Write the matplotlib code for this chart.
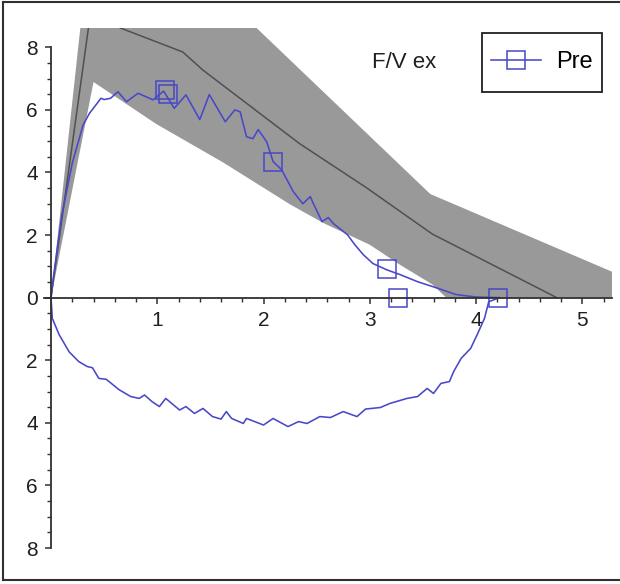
import matplotlib
matplotlib.use("Agg")
import matplotlib.pyplot as plt
from matplotlib.lines import Line2D
from matplotlib.patches import Rectangle
from matplotlib.ticker import FixedLocator, FuncFormatter
import numpy as np

plt.rcParams['font.family'] = ['Liberation Sans', 'DejaVu Sans']

# ---- data ----
band_upper_x = [0.0, 0.40, 1.20, 3.57, 5.30]
band_upper_y = [0.0, 12.5, 11.0, 3.31, 0.80]
band_lower_x = [0.0, 0.40, 0.99, 1.62, 2.25, 2.56, 3.00, 3.28, 3.59, 3.72, 5.30]
band_lower_y = [0.0, 6.89, 5.55, 4.32, 2.98, 2.39, 1.69, 1.06, 0.42, 0.0, 0.0]
mean_x = [0.0, 0.38, 0.65, 1.24, 1.43, 2.34, 2.97, 3.59, 4.76]
mean_y = [0.0, 9.30, 8.62, 7.85, 7.27, 4.92, 3.51, 2.03, 0.0]

pre_up_x = [0.0, 0.02, 0.10, 0.20, 0.30, 0.36, 0.47, 0.50, 0.56, 0.63, 0.71, 0.82, 0.96,
            1.06, 1.16, 1.27, 1.40, 1.49, 1.64, 1.73, 1.78, 1.84, 1.90, 1.95, 2.03, 2.09,
            2.17, 2.28, 2.37, 2.44, 2.47, 2.55, 2.61, 2.66, 2.79, 2.86, 2.94, 3.03, 3.16,
            3.29, 3.45, 3.64, 3.81, 4.00, 4.22]
pre_up_y = [0.0, 0.6, 2.6, 4.3, 5.5, 5.88, 6.37, 6.33, 6.37, 6.58, 6.26, 6.53, 6.32,
            6.60, 6.05, 6.48, 5.69, 6.49, 5.62, 6.00, 5.94, 5.14, 5.08, 5.37, 4.98, 4.35,
            4.09, 3.39, 3.00, 3.23, 3.00, 2.43, 2.56, 2.36, 2.01, 1.69, 1.37, 1.09, 0.89,
            0.73, 0.51, 0.30, 0.10, 0.02, 0.0]
pre_low_x = [0.0, 0.012, 0.076, 0.17, 0.26, 0.34, 0.39, 0.45, 0.52, 0.64, 0.75, 0.83, 0.88,
             0.95, 1.02, 1.08, 1.21, 1.27, 1.35, 1.43, 1.52, 1.60, 1.65, 1.70, 1.81, 1.84,
             2.00, 2.09, 2.23, 2.33, 2.41, 2.53, 2.63, 2.75, 2.88, 2.96, 3.10, 3.19, 3.35,
             3.45, 3.54, 3.60, 3.67, 3.75, 3.79, 3.86, 3.95, 4.01, 4.08, 4.12, 4.22]
pre_low_y = [0.0, -0.66, -1.18, -1.73, -2.04, -2.20, -2.24, -2.58, -2.61, -2.94, -3.16, -3.22, -3.11,
             -3.32, -3.48, -3.22, -3.59, -3.48, -3.70, -3.54, -3.80, -3.88, -3.64, -3.86, -4.02, -3.86,
             -4.07, -3.86, -4.12, -3.96, -4.02, -3.80, -3.83, -3.64, -3.80, -3.56, -3.51, -3.38, -3.22,
             -3.16, -2.90, -3.06, -2.74, -2.68, -2.36, -1.94, -1.62, -1.19, -0.66, -0.13, 0.0]
marker_x = [1.07, 1.10, 2.09, 3.16, 3.27, 4.21]
marker_y = [6.62, 6.50, 4.35, 0.90, 0.0, 0.0]

y_ticks = [-8, -6, -4, -2, 0, 2, 4, 6, 8]
x_ticks = [1, 2, 3, 4, 5]

blue = '#4848c8'
band_color = '#999999'
mean_color = '#505050'
axis_color = '#303030'

fig = plt.figure(figsize=(6.2, 5.84), dpi=100)
ax = fig.add_axes([0.0703, 0.0616, 0.9168, 0.8896])

poly_x = list(band_upper_x) + list(band_lower_x[::-1])
poly_y = list(band_upper_y) + list(band_lower_y[::-1])
ax.fill(poly_x, poly_y, color=band_color, lw=0, zorder=1)
ax.plot(mean_x, mean_y, color=mean_color, lw=1.1, zorder=2)

ax.plot(pre_up_x, pre_up_y, color=blue, lw=1.15, zorder=3)
ax.plot(pre_low_x, pre_low_y, color=blue, lw=1.15, zorder=3)
ax.plot(marker_x, marker_y, ls='none', marker='s', ms=13, mfc='none', mec=blue, mew=1.1,
        zorder=4, clip_on=False)

ax.set_xlim(-0.07, 5.28)
ax.set_ylim(-8.0, 8.6)

for s in ['top', 'right']:
    ax.spines[s].set_visible(False)
ax.spines['left'].set_position(('data', 0))
ax.spines['bottom'].set_position(('data', 0))
ax.spines['left'].set_bounds(-8, 8)
for s in ['left', 'bottom']:
    ax.spines[s].set_color(axis_color)
    ax.spines[s].set_linewidth(1.3)
    ax.spines[s].set_zorder(5)

ax.xaxis.set_major_locator(FixedLocator(x_ticks))
ax.xaxis.set_minor_locator(FixedLocator([v / 5 for v in range(1, 27) if v % 5 != 0]))
ax.yaxis.set_major_locator(FixedLocator(y_ticks))
ax.yaxis.set_minor_locator(FixedLocator([v / 2 for v in range(-16, 17) if v % 4 != 0]))
ax.yaxis.set_major_formatter(FuncFormatter(lambda v, p: f"{abs(int(round(v)))}"))
ax.xaxis.set_major_formatter(FuncFormatter(lambda v, p: f"{int(round(v))}"))

ax.tick_params(axis='both', which='major', direction='out', length=4.5, width=1.1,
               color=axis_color, labelsize=15, labelcolor='#202020')
ax.tick_params(axis='both', which='minor', direction='out', length=3, width=1.0,
               color=axis_color)
ax.tick_params(axis='x', which='major', pad=5)
ax.tick_params(axis='y', which='major', pad=5)

fig.text(372 / 620, 1 - 68 / 584, "F/V ex", fontsize=16, color='#202020',
         ha='left', va='baseline')

# legend: frame drawn as a rectangle in figure pixels, entries via figure legend
fig.add_artist(Rectangle((482 / 620, 1 - 92 / 584), 120 / 620, 59 / 584,
                         transform=fig.transFigure, facecolor='white',
                         edgecolor='#202020', lw=1.3, zorder=6))
handle = Line2D([], [], color=blue, lw=1.15, marker='s', ms=13, mfc='none', mec=blue, mew=1.1)
leg = fig.legend([handle], ["Pre"], loc='center',
                 bbox_to_anchor=(542 / 620, 1 - 62.5 / 584), bbox_transform=fig.transFigure,
                 borderaxespad=0, borderpad=0, fontsize=17, frameon=False,
                 handlelength=2.1, handletextpad=0.64)
leg.set_zorder(7)

# figure border
for xs, ys in [([3 / 620, 1.05], [1 - 2 / 584, 1 - 2 / 584]),
               ([3 / 620, 3 / 620], [1 - 2 / 584, 1 - 580 / 584]),
               ([3 / 620, 1.05], [1 - 580 / 584, 1 - 580 / 584])]:
    fig.add_artist(Line2D(xs, ys, transform=fig.transFigure, color='#303030', lw=1.5))

fig.savefig("out.png", dpi=100)
